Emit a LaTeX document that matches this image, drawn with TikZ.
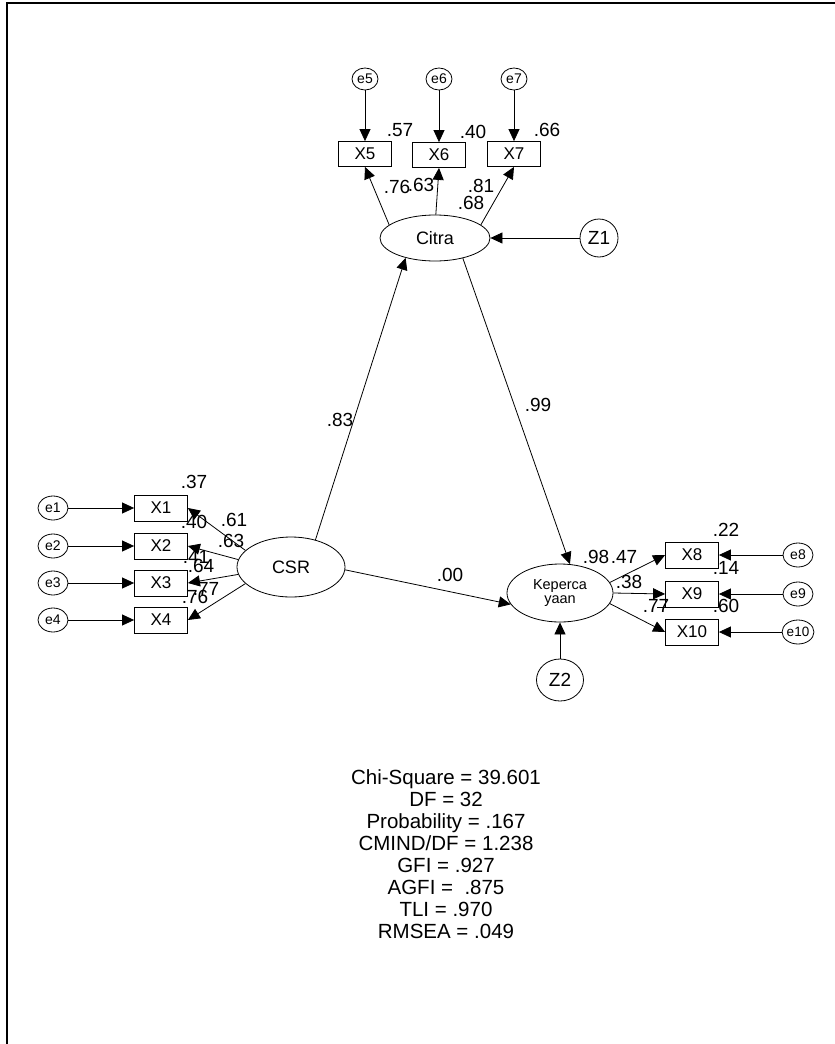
\documentclass[tikz,border=0pt]{standalone}
\usepackage{fontspec}
\setmainfont{Liberation Sans}
\usetikzlibrary{arrows.meta,shapes.geometric}
\begin{document}
\begin{tikzpicture}[x=1pt,y=-1pt,
  obs/.style={draw,line width=0.8pt,minimum width=53pt,minimum height=26pt,inner sep=0pt,font=\fontsize{17}{17}\selectfont},
  err/.style={draw,ellipse,line width=0.8pt,minimum width=30pt,minimum height=24pt,inner sep=0pt,font=\fontsize{14}{14}\selectfont},
  lat/.style={draw,ellipse,line width=0.8pt,inner sep=0pt,font=\fontsize{18}{18}\selectfont},
  res/.style={draw,ellipse,line width=0.8pt,inner sep=0pt,font=\fontsize{19}{19}\selectfont},
  est/.style={inner sep=0pt,font=\fontsize{19}{19}\selectfont},
  arr/.style={line width=0.8pt,-{Triangle[length=12pt,width=11pt]}}]
\useasboundingbox (0,0) rectangle (835,1044);
\draw[line width=2pt] (7,1044) -- (7,3) -- (835,3);
\node[lat,minimum width=110pt,minimum height=46pt] (citra) at (435,238) {Citra};
\node[lat,minimum width=108pt,minimum height=60pt] (csr) at (291,567) {CSR};
\node[lat,align=center,font=\fontsize{14.5}{13.5}\selectfont,minimum width=106pt,minimum height=58pt] (kep) at (560,593) {Keperca\\yaan};
\node[res,minimum width=38pt,minimum height=38pt] (z1) at (599,238) {Z1};
\node[res,minimum width=47pt,minimum height=42pt] (z2) at (560,680) {Z2};
\node[obs,minimum height=25pt] (x5) at (365,154) {X5};
\node[obs,minimum height=25pt] (x6) at (439,155) {X6};
\node[obs,minimum height=25pt] (x7) at (514,154) {X7};
\node[obs] (x1) at (161,508) {X1};
\node[obs] (x2) at (161,546) {X2};
\node[obs] (x3) at (161,583) {X3};
\node[obs] (x4) at (161,620) {X4};
\node[obs] (x8) at (692,555) {X8};
\node[obs] (x9) at (692,594) {X9};
\node[obs] (x10) at (692,632) {X10};
\node[err,minimum width=26pt,minimum height=22pt] (e5) at (365,79) {e5};
\node[err,minimum width=26pt,minimum height=22pt] (e6) at (439,79) {e6};
\node[err,minimum width=26pt,minimum height=22pt] (e7) at (514,79) {e7};
\node[err] (e1) at (53,508) {e1};
\node[err] (e2) at (53,546) {e2};
\node[err] (e3) at (53,583) {e3};
\node[err] (e4) at (53,620) {e4};
\node[err] (e8) at (798,555) {e8};
\node[err] (e9) at (798,594) {e9};
\node[err,font=\fontsize{13.5}{13.5}\selectfont] (e10) at (798,632) {e10};
\draw[arr] (e5) -- (x5);
\draw[arr] (e6) -- (x6);
\draw[arr] (e7) -- (x7);
\draw[arr] (e1) -- (x1);
\draw[arr] (e2) -- (x2);
\draw[arr] (e3) -- (x3);
\draw[arr] (e4) -- (x4);
\draw[arr] (e8) -- (x8);
\draw[arr] (e9) -- (x9);
\draw[arr] (e10) -- (x10);
\draw[arr] (citra.164) -- (x5.south);
\draw[arr] (citra.88) -- (x6.south);
\draw[arr] (citra.16) -- (x7.south);
\draw[arr] (csr.160) -- (x1.east);
\draw[arr] (csr.172) -- (x2.east);
\draw[arr] (csr.188) -- (x3.east);
\draw[arr] (csr.200) -- (x4.east);
\draw[arr] (kep.12) -- (x8.west);
\draw[arr] (kep.east) -- (x9.west);
\draw[arr] (kep.-12) -- (x10.west);
\draw[arr] (z1) -- (citra);
\draw[arr] (z2) -- (kep);
\draw[arr] (csr.48) -- (citra.214);
\draw[arr] (csr.-3) -- (kep.193);
\draw[arr] (citra.-36) -- (kep.71);
\draw[line width=0.8pt] (x9.south west) -- ++(-8,0);
\node[est] (rx5) at (400,130) {.57};
\node[est] (rx6) at (473,132) {.40};
\node[est] (rx7) at (547,130) {.66};
\node[est] (lx5) at (397,187) {.76};
\node[est] (lx6) at (421,185) {.63};
\node[est] (lx7) at (481,186) {.81};
\node[est] (rcitra) at (471,203) {.68};
\node[est] (bcc) at (340,420) {.83};
\node[est] (bck) at (538,405) {.99};
\node[est] (bsk) at (450,575) {.00};
\node[est] (rx1) at (194,482) {.37};
\node[est] (rx2) at (194,522) {.40};
\node[est] (lx1) at (234,520) {.61};
\node[est] (lx2) at (231,541) {.63};
\node[est] (rx3) at (196,557) {.41};
\node[est] (lx3) at (201,566) {.64};
\node[est] (lx4) at (206,589) {.77};
\node[est] (rx4) at (195,597) {.76};
\node[est] (rkep) at (596,557) {.98};
\node[est] (lx8) at (624,557) {.47};
\node[est] (rx8) at (726,530) {.22};
\node[est] (rx9) at (726,568) {.14};
\node[est] (lx9) at (629,582) {.38};
\node[est] (lx10) at (656,606) {.77};
\node[est] (rx10) at (726,606) {.60};
\node[align=center,inner sep=0pt,font=\fontsize{20.5}{22}\selectfont] (fit) at (446,854)
  {Chi-Square = 39.601\\DF = 32\\Probability = .167\\CMIND/DF = 1.238\\GFI = .927\\AGFI = \ .875\\TLI = .970\\RMSEA = .049};
\end{tikzpicture}
\end{document}
